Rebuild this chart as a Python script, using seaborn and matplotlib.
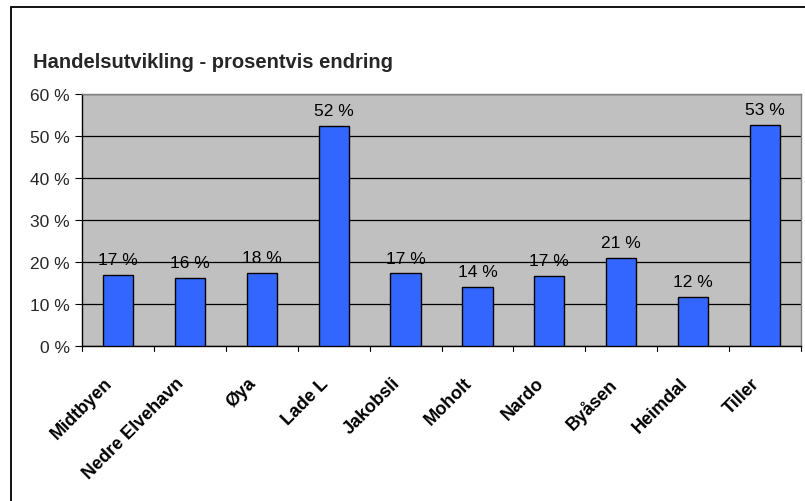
import matplotlib
matplotlib.use("Agg")
import matplotlib.pyplot as plt
import matplotlib.transforms as mtrans
import seaborn as sns
import pandas as pd
from matplotlib.patches import Rectangle

categories = ["Midtbyen", "Nedre Elvehavn", "Øya", "Lade L", "Jakobsli",
              "Moholt", "Nardo", "Byåsen", "Heimdal", "Tiller"]
values = [16.9, 16.3, 17.5, 52.4, 17.3, 14.0, 16.6, 20.95, 11.8, 52.6]
labels = ["17 %", "16 %", "18 %", "52 %", "17 %", "14 %", "17 %", "21 %", "12 %", "53 %"]
yticks = [0, 10, 20, 30, 40, 50, 60]
title = "Handelsutvikling - prosentvis endring"

sns.set_theme(style="white")
plt.rcParams['font.family'] = ['Liberation Sans', 'DejaVu Sans']

W, H = 805, 502
fig = plt.figure(figsize=(W / 100, H / 100), dpi=100)
fig.patch.set_facecolor("white")

# outer chart frame
fig.patches.append(Rectangle((11 / W, -0.05), 1.1, 1 - 8 / H + 0.05,
                             transform=fig.transFigure, fill=False,
                             edgecolor="black", linewidth=1.3, zorder=0))

left, right, top, bottom = 82, 801, 94.7, 347.3
ax = fig.add_axes([left / W, 1 - bottom / H, (right - left) / W, (bottom - top) / H])
ax.set_facecolor("#C0C0C0")

df = pd.DataFrame({"cat": categories, "val": values})
sns.barplot(data=df, x="cat", y="val", ax=ax, color="#3366FF", width=0.42,
            edgecolor="black", linewidth=1.0, saturation=1, zorder=3)

ax.set_ylim(0, 60)
ax.set_xlim(-0.5, len(categories) - 0.5)
ax.set_yticks(yticks)
ax.set_yticklabels([f"{t} %" for t in yticks], fontsize=12.5)
ax.yaxis.grid(True, color="black", linewidth=0.9, zorder=0)
ax.set_axisbelow(True)

ax.set_xticks(range(len(categories)))
ax.set_xticklabels([])
ax.set_xlabel("")
ax.set_ylabel("")

# rotated category labels
trans = mtrans.blended_transform_factory(ax.transData, ax.transAxes) + \
    mtrans.ScaledTranslation(-0.14, -0.28, fig.dpi_scale_trans)
for i, cat in enumerate(categories):
    ax.text(i, 0, cat, transform=trans, rotation=45, ha="right", va="top",
            rotation_mode="anchor", fontsize=13, fontweight="bold", color="black")

ax.tick_params(axis="x", length=0)
ax.tick_params(axis="y", length=5, width=0.8, color="black", direction="out", left=True, pad=4)
for b in range(len(categories) + 1):
    ax.plot([b - 0.5, b - 0.5], [0, -1.2], color="black", lw=0.8, clip_on=False, zorder=5)

for s in ["top", "right"]:
    ax.spines[s].set_color("#808080")
    ax.spines[s].set_linewidth(1.0)
for s in ["left", "bottom"]:
    ax.spines[s].set_color("black")
    ax.spines[s].set_linewidth(1.0)

for i, (v, lab) in enumerate(zip(values, labels)):
    ax.text(i, v + 2.6, lab, ha="center", va="baseline", fontsize=12.5, color="black", zorder=6)

fig.text(33 / W, 1 - 68 / H, title, fontsize=14.5, fontweight="bold", ha="left", va="baseline")

fig.savefig("out.png", dpi=100)
